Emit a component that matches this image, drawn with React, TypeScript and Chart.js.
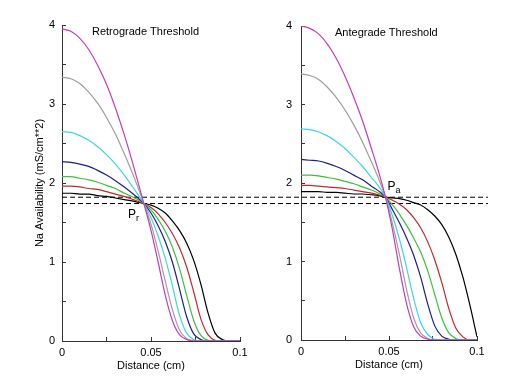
import React, { useEffect, useRef } from 'react';
import { Chart, registerables } from 'chart.js';

Chart.register(...registerables);

// ---------- data ----------
const seriesNames = ['magenta', 'gray', 'cyan', 'navy', 'green', 'red', 'black'];
const seriesColors = ['#c23cc2', '#a39c9c', '#3fd6df', '#1e1e8a', '#3fbf3f', '#c02a2a', '#000000'];

// Retrograde panel
const xRetro = [0, 0.005, 0.01, 0.015, 0.02, 0.025, 0.03, 0.035, 0.04, 0.046, 0.05, 0.054, 0.058, 0.062, 0.066, 0.07, 0.074, 0.078, 0.082, 0.086, 0.09, 0.095, 0.1];
const retroMagenta = [3.95, 3.92, 3.83, 3.69, 3.49, 3.25, 2.95, 2.61, 2.23, 1.74, 1.40, 1.00, 0.58, 0.26, 0.08, 0.02, 0, 0, 0, 0, 0, 0, 0];
const retroGray = [3.34, 3.32, 3.26, 3.15, 3.01, 2.83, 2.62, 2.37, 2.10, 1.74, 1.48, 1.14, 0.76, 0.40, 0.14, 0.03, 0.005, 0, 0, 0, 0, 0, 0];
const retroCyan = [2.65, 2.64, 2.60, 2.54, 2.46, 2.36, 2.24, 2.10, 1.94, 1.74, 1.56, 1.33, 1.05, 0.70, 0.33, 0.10, 0.02, 0, 0, 0, 0, 0, 0];
const retroNavy = [2.27, 2.26, 2.24, 2.21, 2.16, 2.10, 2.03, 1.95, 1.86, 1.74, 1.62, 1.46, 1.26, 1.00, 0.66, 0.31, 0.09, 0.02, 0, 0, 0, 0, 0];
const retroGreen = [2.08, 2.08, 2.06, 2.04, 2.01, 1.97, 1.93, 1.87, 1.82, 1.74, 1.66, 1.54, 1.39, 1.19, 0.92, 0.58, 0.26, 0.07, 0.01, 0, 0, 0, 0];
const retroRed = [1.96, 1.96, 1.95, 1.93, 1.92, 1.89, 1.86, 1.83, 1.79, 1.74, 1.69, 1.61, 1.50, 1.36, 1.18, 0.94, 0.62, 0.28, 0.08, 0.01, 0, 0, 0];
const retroBlack = [1.87, 1.87, 1.86, 1.86, 1.84, 1.83, 1.81, 1.79, 1.77, 1.74, 1.72, 1.68, 1.62, 1.52, 1.40, 1.24, 1.02, 0.72, 0.36, 0.10, 0.02, 0, 0];

// Antegrade panel
const xAnte = [0, 0.005, 0.01, 0.015, 0.02, 0.025, 0.03, 0.035, 0.04, 0.044, 0.048, 0.052, 0.056, 0.06, 0.064, 0.068, 0.072, 0.076, 0.08, 0.084, 0.088, 0.092, 0.096, 0.1];
const anteMagenta = [4.00, 3.97, 3.90, 3.77, 3.59, 3.36, 3.09, 2.79, 2.44, 2.15, 1.82, 1.40, 0.90, 0.46, 0.17, 0.05, 0.01, 0, 0, 0, 0, 0, 0, 0];
const anteGray = [3.39, 3.37, 3.32, 3.22, 3.09, 2.93, 2.74, 2.52, 2.27, 2.06, 1.82, 1.48, 1.08, 0.64, 0.28, 0.09, 0.02, 0, 0, 0, 0, 0, 0, 0];
const anteCyan = [2.69, 2.68, 2.65, 2.60, 2.53, 2.44, 2.33, 2.21, 2.07, 1.96, 1.82, 1.58, 1.28, 0.92, 0.53, 0.22, 0.07, 0.01, 0, 0, 0, 0, 0, 0];
const anteNavy = [2.30, 2.29, 2.28, 2.25, 2.21, 2.16, 2.10, 2.04, 1.96, 1.90, 1.82, 1.66, 1.49, 1.30, 1.08, 0.80, 0.46, 0.18, 0.05, 0.01, 0, 0, 0, 0];
const anteGreen = [2.10, 2.10, 2.09, 2.07, 2.05, 2.02, 1.99, 1.95, 1.91, 1.87, 1.82, 1.72, 1.60, 1.46, 1.30, 1.12, 0.88, 0.58, 0.28, 0.09, 0.02, 0, 0, 0];
const anteRed = [1.97, 1.97, 1.96, 1.95, 1.94, 1.93, 1.91, 1.89, 1.87, 1.85, 1.82, 1.78, 1.73, 1.66, 1.56, 1.43, 1.25, 1.02, 0.73, 0.40, 0.15, 0.04, 0, 0];
const anteBlack = [1.89, 1.89, 1.89, 1.88, 1.88, 1.87, 1.86, 1.86, 1.85, 1.84, 1.82, 1.81, 1.80, 1.78, 1.75, 1.72, 1.66, 1.58, 1.47, 1.31, 1.09, 0.80, 0.44, 0.04];

// Threshold (dashed) levels and their extent in left-panel x units
const thresholds = [1.82, 1.74];
const thresholdSpan = [0, 0.2393];

// Crossing points
const pointR = { x: 0.046, y: 1.74 };
const pointA = { x: 0.048, y: 1.82 };

const yTickLabels = ['0', '1', '2', '3', '4'];
const xTickLabels = ['0', '0.05', '0.1'];

const FONT = '"Liberation Sans", Arial, Helvetica, sans-serif';

function makeCurves(xs: number[], ys: number[][]) {
  return ys.map((arr, i) => ({
    label: seriesNames[i],
    data: arr.map((v, j) => ({ x: xs[j], y: v })),
    borderColor: seriesColors[i],
    borderWidth: 1.2,
    pointRadius: 0,
    cubicInterpolationMode: 'monotone' as const,
    fill: false,
  }));
}

function xTickCb(v: any) {
  const r = Math.round(v * 1000) / 1000;
  const k = r / 0.05;
  if (Math.abs(k - Math.round(k)) < 1e-6) {
    return xTickLabels[Math.round(k)] ?? '';
  }
  return '';
}
function yTickCb(v: any) {
  const r = Math.round(v * 100) / 100;
  if (Math.abs(r - Math.round(r)) < 1e-6) return yTickLabels[Math.round(r)] ?? '';
  return '';
}

function labelPlugin(title: string, titleDx: number, pt: { x: number; y: number }, sub: string, dx: number, dy: number) {
  return {
    id: 'panelLabels',
    afterDatasetsDraw(chart: any) {
      const { ctx, chartArea, scales } = chart;
      ctx.save();
      ctx.fillStyle = '#000';
      ctx.font = `11px ${FONT}`;
      ctx.textAlign = 'left';
      ctx.textBaseline = 'middle';
      ctx.fillText(title, chartArea.left + titleDx, chartArea.top + 7);
      const px = scales.x.getPixelForValue(pt.x);
      const py = scales.y.getPixelForValue(pt.y);
      ctx.textBaseline = 'alphabetic';
      ctx.font = `12px ${FONT}`;
      ctx.fillText('P', px + dx, py + dy);
      const w = ctx.measureText('P').width;
      ctx.font = `9px ${FONT}`;
      ctx.fillText(sub, px + dx + w, py + dy + 3);
      ctx.restore();
    },
  };
}

function axisCommon() {
  return {
    grid: { drawOnChartArea: false, drawTicks: true, tickLength: -4, color: '#333', lineWidth: 1 },
    border: { display: true, color: '#333', width: 1 },
  };
}

export default function App() {
  const leftRef = useRef<HTMLCanvasElement>(null);
  const rightRef = useRef<HTMLCanvasElement>(null);

  useEffect(() => {
    Chart.defaults.font.family = FONT;
    Chart.defaults.font.size = 11;
    Chart.defaults.color = '#000';

    const dashed = thresholds.map((t, i) => ({
      label: 'threshold' + i,
      data: thresholdSpan.map((x) => ({ x, y: t })),
      borderColor: '#000',
      borderWidth: 1,
      borderDash: [5, 3],
      pointRadius: 0,
      clip: false as any,
      fill: false,
    }));

    const left = new Chart(leftRef.current!, {
      type: 'line',
      data: {
        datasets: [
          ...makeCurves(xRetro, [retroMagenta, retroGray, retroCyan, retroNavy, retroGreen, retroRed, retroBlack]),
          ...dashed,
        ] as any,
      },
      options: {
        animation: false,
        responsive: false,
        layout: { padding: { top: 25, right: 277, left: 0, bottom: 0 } },
        plugins: { legend: { display: false }, tooltip: { enabled: false } },
        scales: {
          x: {
            type: 'linear',
            min: 0,
            max: 0.1,
            afterFit: (s: any) => { s.height = 40; },
            ticks: { stepSize: 0.025, autoSkip: false, maxRotation: 0, padding: 9, callback: xTickCb, color: '#000' },
            title: { display: true, text: 'Distance (cm)', color: '#000', padding: { top: 0, bottom: 8 } },
            ...axisCommon(),
          },
          y: {
            type: 'linear',
            min: 0,
            max: 4,
            afterFit: (s: any) => { s.width = 62; },
            ticks: { stepSize: 0.5, autoSkip: false, padding: 11, callback: yTickCb, color: '#000' },
            title: { display: true, text: 'Na Availability (mS/cm**2)', color: '#000', padding: { top: 33, bottom: 0 } },
            ...axisCommon(),
          },
        } as any,
      },
      plugins: [labelPlugin('Retrograde Threshold', 30, pointR, 'r', -16, 14)],
    });

    const right = new Chart(rightRef.current!, {
      type: 'line',
      data: {
        datasets: makeCurves(xAnte, [anteMagenta, anteGray, anteCyan, anteNavy, anteGreen, anteRed, anteBlack]) as any,
      },
      options: {
        animation: false,
        responsive: false,
        layout: { padding: { top: 26, right: 40, left: 0, bottom: 0 } },
        plugins: { legend: { display: false }, tooltip: { enabled: false } },
        scales: {
          x: {
            type: 'linear',
            min: 0,
            max: 0.1,
            afterFit: (s: any) => { s.height = 41; },
            ticks: { stepSize: 0.025, autoSkip: false, maxRotation: 0, padding: 9, callback: xTickCb, color: '#000' },
            title: { display: true, text: 'Distance (cm)', color: '#000', padding: { top: 0, bottom: 9 } },
            ...axisCommon(),
          },
          y: {
            type: 'linear',
            min: 0,
            max: 4,
            afterFit: (s: any) => { s.width = 43; },
            ticks: { stepSize: 0.5, autoSkip: false, padding: 13, callback: yTickCb, color: '#000' },
            ...axisCommon(),
          },
        } as any,
      },
      plugins: [labelPlugin('Antegrade Threshold', 34, pointA, 'a', 2, -7)],
    });

    return () => {
      left.destroy();
      right.destroy();
    };
  }, []);

  return (
    <div style={{ position: 'absolute', left: 0, top: 0, width: 517, height: 381, background: '#fff' }}>
      <canvas ref={leftRef} width={517} height={381} style={{ position: 'absolute', left: 0, top: 0 }} />
      <canvas ref={rightRef} width={259} height={381} style={{ position: 'absolute', left: 258, top: 0 }} />
    </div>
  );
}
